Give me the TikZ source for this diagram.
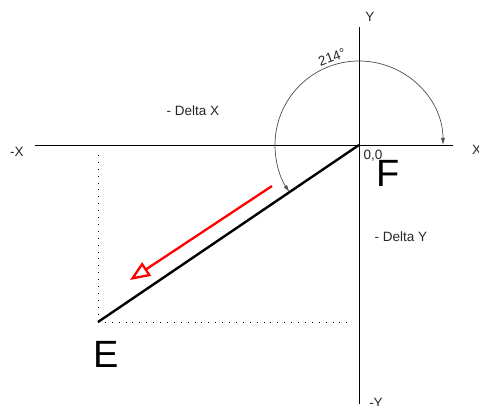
\documentclass[tikz,border=0pt]{standalone}
\usepackage{fontspec}
\setmainfont{Liberation Sans}
\usetikzlibrary{arrows.meta}

\tikzset{
  axis/.style={line width=0.8pt},
  guide/.style={line width=0.9pt, dash pattern=on 0.9pt off 6pt},
  lbl/.style={font=\fontsize{13.5}{15}\selectfont, text=black!85, inner sep=0pt},
  bigname/.style={font=\fontsize{38}{40}\selectfont, inner sep=0pt},
}

\begin{document}
\begin{tikzpicture}[x=1pt,y=1pt]
\useasboundingbox (-359,-261) rectangle (120,145);

% points
\coordinate (o) at (0,0);
\coordinate (e) at (-261,-177);
\coordinate (xl) at (-324,0);
\coordinate (xr) at (94,0);
\coordinate (yt) at (0,118);
\coordinate (yb) at (0,-259);

% axes
\draw[axis] (xl) -- (xr);
\draw[axis] (yt) -- (yb);

% deltas
\coordinate (dx) at (-261,-10);
\coordinate (dy) at (-9,-177);
\draw[guide] (dx) -- (e);
\draw[guide] (e) -- (dy);

% the move
\draw[line width=2.4pt] (o) -- (e);
\coordinate (ra) at (-87,-41);
\coordinate (rb) at (-229,-135);
\draw[red, line width=2.3pt, -{Triangle[open, length=20pt, width=16pt]}] (ra) -- (rb);

% angle
\draw[black!70, line width=0.7pt, {Latex[length=7pt,width=4pt]}-{Latex[length=7pt,width=4pt]}]
  (84pt,0) arc[start angle=0, end angle=214, radius=84pt];

\node[lbl, rotate=20] (ang) at (-27,88) {214°};
\node[lbl] (ylab) at (11,128) {Y};
\node[lbl, anchor=west] (xlab) at (113,-5) {X};
\node[lbl] (mxlab) at (-342,-7) {-X};
\node[lbl] (mylab) at (17,-258) {-Y};
\node[lbl] (zero) at (14,-11) {0,0};
\node[lbl] (dxlab) at (-166,34) {- Delta X};
\node[lbl] (dylab) at (42,-92) {- Delta Y};
\node[bigname] (flab) at (29,-28) {F};
\node[bigname] (elab) at (-253,-209) {E};
\end{tikzpicture}
\end{document}
